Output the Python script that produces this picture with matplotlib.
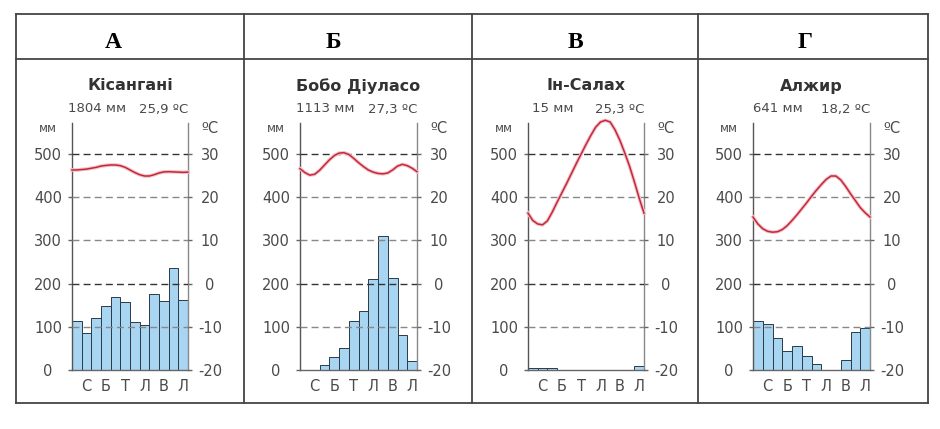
import numpy as np
import matplotlib.pyplot as plt
import matplotlib.patheffects as pe
from matplotlib.lines import Line2D

plt.rcParams['axes.unicode_minus'] = False

# --- data ---
letters = ['А', 'Б', 'В', 'Г']
stations = ['Кісангані', 'Бобо Діуласо', 'Ін-Салах', 'Алжир']
annual_precip = ['1804 мм', '1113 мм', '15 мм', '641 мм']
annual_temp = ['25,9 ºC', '27,3 ºC', '25,3 ºC', '18,2 ºC']
month_labels = ['С', 'Б', 'Т', 'Л', 'В', 'Л']

precip_a = [113, 86, 121, 148, 170, 158, 112, 103, 176, 160, 237, 162]
precip_b = [0, 0, 12, 29, 52, 114, 137, 210, 311, 212, 80, 21]
precip_c = [4, 4, 4, 0, 0, 0, 0, 0, 0, 0, 0, 10]
precip_d = [113, 106, 73, 44, 55, 33, 15, 0, 0, 22, 87, 97]

# temperature read every half month, from the left axis to the right axis
temp_a = [26.3, 26.3, 26.4, 26.5, 26.7, 26.9, 27.2, 27.35, 27.45, 27.45, 27.3, 26.9, 26.3,
          25.7, 25.2, 24.9, 24.9, 25.2, 25.6, 25.85, 25.9, 25.85, 25.8, 25.75, 25.8]
temp_b = [26.6, 25.7, 25.1, 25.3, 26.2, 27.4, 28.6, 29.6, 30.2, 30.3, 29.9, 29.0, 28.0,
          27.1, 26.3, 25.8, 25.5, 25.4, 25.6, 26.3, 27.2, 27.6, 27.3, 26.7, 25.9]
temp_c = [16.3, 14.6, 13.8, 13.6, 14.5, 16.5, 18.8, 21.0, 23.2, 25.5, 27.8, 30.0, 32.2,
          34.3, 36.2, 37.4, 37.8, 37.4, 35.6, 33.2, 30.3, 27.2, 23.6, 19.8, 16.3]
temp_d = [15.4, 13.8, 12.7, 12.1, 11.9, 12.0, 12.5, 13.4, 14.6, 15.9, 17.3, 18.7, 20.2,
          21.6, 22.9, 24.1, 24.9, 24.9, 24.0, 22.5, 20.8, 19.2, 17.6, 16.4, 15.4]
temp_x = np.arange(25) / 2

precips = [precip_a, precip_b, precip_c, precip_d]
temps = [temp_a, temp_b, temp_c, temp_d]

W, H = 940, 429
fig = plt.figure(figsize=(W / 100, H / 100), dpi=100)
fig.patch.set_facecolor('white')


def fx(px):
    return px / W


def fy(py):
    return 1 - py / H


# table frame
col_edges = [16, 244, 472, 698, 928]
frame_top, head_bottom, frame_bottom = 14, 59, 403
frame_kw = dict(color='#444444', lw=1.3, transform=fig.transFigure)
for y in [frame_top, head_bottom, frame_bottom]:
    fig.add_artist(Line2D([fx(col_edges[0]), fx(col_edges[-1])], [fy(y), fy(y)], **frame_kw))
for x in col_edges:
    fig.add_artist(Line2D([fx(x), fx(x)], [fy(frame_top), fy(frame_bottom)], **frame_kw))

letter_x = [113, 333, 575, 805]
for lx, letter in zip(letter_x, letters):
    fig.text(fx(lx), fy(43), letter, ha='center', va='center', fontsize=17,
             fontweight='bold', family='Liberation Serif', color='black')

axis_left = [72, 300, 528, 753]
axis_width = [116, 117, 116, 117]
ax_bottom, ax_top = 370, 123.3
mm_top = 571
text_col = '#4a4a4a'

for i in range(4):
    ax = fig.add_axes([fx(axis_left[i]), fy(ax_bottom), fx(axis_width[i]),
                       (ax_bottom - ax_top) / H])
    ax.set_xlim(0, 12)
    ax.set_ylim(0, mm_top)
    ax.set_facecolor('none')

    ax.bar(np.arange(12) + 0.5, precips[i], width=1, color='#a8d5f2',
           edgecolor='#2b3a48', linewidth=0.7, zorder=2)

    for v in [100, 200, 300, 400, 500]:
        dark = v in (200, 500)
        ax.axhline(v, color='#333333' if dark else '#888888', lw=1.0,
                   dashes=(5, 3), zorder=3)

    ax.spines['top'].set_visible(False)
    ax.spines['left'].set_color('#555555')
    ax.spines['right'].set_color('#888888')
    ax.spines['bottom'].set_color('#666666')
    for s in ['left', 'right', 'bottom']:
        ax.spines[s].set_linewidth(1.0)

    ax.set_yticks([0, 100, 200, 300, 400, 500])
    ax.tick_params(axis='y', length=3, width=1.0, color='#666666', pad=14.3,
                   labelsize=10.5, labelcolor=text_col)
    for t in ax.get_yticklabels():
        t.set_horizontalalignment('center')

    ax.set_xticks(np.arange(6) * 2 + 1.5)
    ax.set_xticklabels(month_labels)
    ax.tick_params(axis='x', length=0, pad=6.5, labelsize=10.5, labelcolor=text_col)

    tx = ax.twinx()
    tx.set_ylim(-20, mm_top / 10 - 20)
    tx.set_xlim(0, 12)
    for s in tx.spines.values():
        s.set_visible(False)
    tx.set_yticks([-20, -10, 0, 10, 20, 30])
    tx.tick_params(axis='y', length=3, width=1.0, color='#666666', pad=12.8,
                   labelsize=10.5, labelcolor=text_col)
    for t in tx.get_yticklabels():
        t.set_horizontalalignment('center')

    tx.plot(temp_x, temps[i], color='#c4283a', lw=1.1, clip_on=False, zorder=4,
            path_effects=[pe.withStroke(linewidth=2.6, foreground='#f2c2c8')])

    cx = axis_left[i] + axis_width[i] / 2
    fig.text(fx(cx), fy(86), stations[i], ha='center', va='center', fontsize=11.5,
             fontweight='bold', color='#333333')
    fig.text(fx(axis_left[i] + 25), fy(109), annual_precip[i], ha='center', va='center',
             fontsize=9.5, color=text_col)
    fig.text(fx(axis_left[i] + axis_width[i] - 24), fy(109), annual_temp[i], ha='center',
             va='center', fontsize=9.5, color=text_col)
    fig.text(fx(axis_left[i] - 24), fy(129), 'мм', ha='center', va='center',
             fontsize=8.5, color=text_col)
    fig.text(fx(axis_left[i] + axis_width[i] + 22), fy(129), 'ºC', ha='center',
             va='center', fontsize=10.5, color=text_col)

fig.savefig('out.png', dpi=100, facecolor='white')
